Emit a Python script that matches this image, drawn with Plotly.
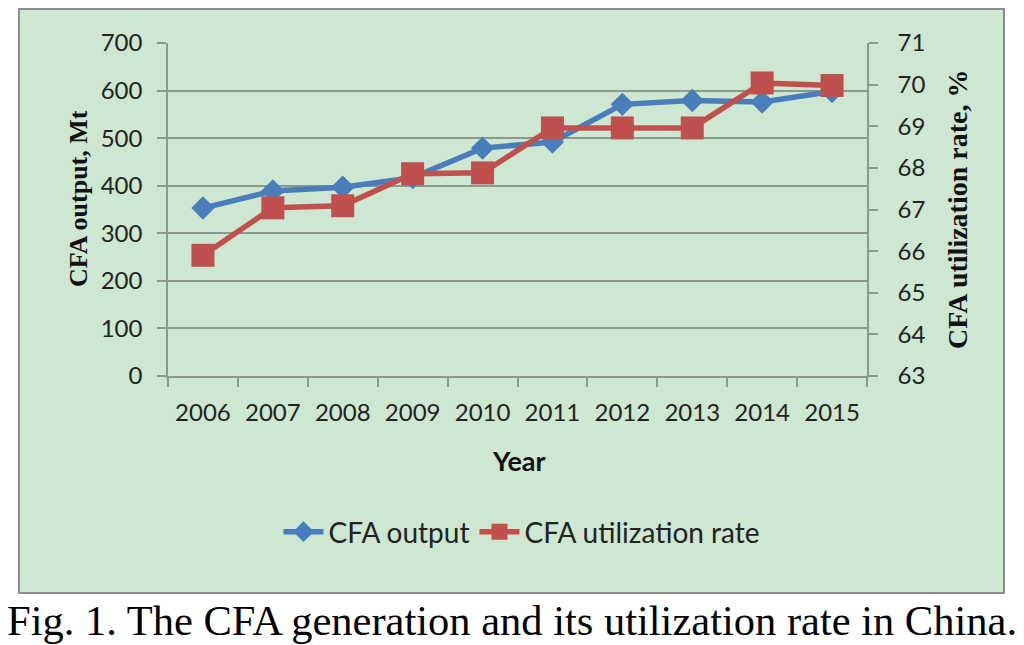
import plotly.graph_objects as go

years = ["2006", "2007", "2008", "2009", "2010", "2011", "2012", "2013", "2014", "2015"]
cfa_output = [353, 389, 397, 417, 479, 492, 571, 579, 576, 598]
cfa_util_rate = [65.9, 67.04, 67.09, 67.86, 67.88, 68.96, 68.96, 68.96, 70.04, 69.98]

left_ticks = [0, 100, 200, 300, 400, 500, 600, 700]
right_ticks = [63, 64, 65, 66, 67, 68, 69, 70, 71]

BLUE = "#4a7ebb"
RED = "#c0504d"
GREEN = "#cde7d0"
GRID = "#8a9a8c"
SANS = "Lato, 'Open Sans', sans-serif"
SERIF = "'Liberation Serif', 'Times New Roman', serif"
TICKFONT = dict(family=SANS, size=24, color="#222222")

fig = go.Figure()
fig.add_trace(go.Scatter(
    x=years, y=cfa_output, name="CFA output", mode="lines+markers",
    line=dict(color=BLUE, width=5.5),
    marker=dict(symbol="diamond", size=18, color=BLUE),
    yaxis="y",
))
fig.add_trace(go.Scatter(
    x=years, y=cfa_util_rate, name="CFA utilization rate", mode="lines+markers",
    line=dict(color=RED, width=5.5),
    marker=dict(symbol="square", size=23, color=RED),
    yaxis="y2",
))

OFF = 8  # page body margin
W, H = 1016, 637
L, R, T, B = 160, 157, 35, 269
pw = W - L - R
ph = H - T - B

def px_x(px):
    return (px - OFF - L) / pw

def px_y(py):
    return (H - B - (py - OFF)) / ph

fig.update_layout(
    width=W, height=H,
    margin=dict(l=L, r=R, t=T, b=B, pad=0),
    paper_bgcolor="white",
    plot_bgcolor="rgba(0,0,0,0)",
    showlegend=True,
    legend=dict(orientation="h", x=px_x(522), y=px_y(532), xanchor="center", yanchor="middle",
                font=dict(family=SANS, size=28, color="#222222"), itemwidth=40,
                bgcolor="rgba(0,0,0,0)", tracegroupgap=0),
    xaxis=dict(
        type="category", tickson="boundaries", ticks="outside", ticklen=9,
        tickcolor=GRID, tickwidth=1.5, showgrid=False, showline=True, linecolor=GRID, linewidth=1.5,
        tickfont=TICKFONT, range=[-0.5, 9.5], ticklabelstandoff=14,
    ),
    yaxis=dict(
        range=[0, 700], tickvals=left_ticks, ticks="outside", ticklen=9, tickcolor=GRID, tickwidth=1.5,
        showgrid=True, gridcolor=GRID, gridwidth=1.5, showline=True, linecolor=GRID, linewidth=1.5,
        zeroline=False, tickfont=TICKFONT, ticklabelstandoff=10,
    ),
    yaxis2=dict(
        range=[63, 71], tickvals=right_ticks, overlaying="y", side="right", ticks="outside", ticklen=9,
        tickcolor=GRID, tickwidth=1.5, showgrid=False, showline=True, linecolor=GRID, linewidth=1.5,
        zeroline=False, tickfont=TICKFONT, ticklabelstandoff=15,
    ),
    shapes=[dict(
        type="rect", xref="paper", yref="paper", layer="below",
        x0=px_x(19), x1=px_x(1004), y0=px_y(593), y1=px_y(9),
        fillcolor=GREEN, line=dict(color="#8c8c8c", width=2),
    )],
    annotations=[
        dict(text="<b>CFA output, Mt</b>", xref="paper", yref="paper", x=px_x(78), y=px_y(199),
             textangle=-90, showarrow=False, xanchor="center", yanchor="middle",
             font=dict(family=SERIF, size=26, color="#111111")),
        dict(text="<b>CFA utilization rate, %</b>", xref="paper", yref="paper", x=px_x(957), y=px_y(210),
             textangle=-90, showarrow=False, xanchor="center", yanchor="middle",
             font=dict(family=SERIF, size=28, color="#111111")),
        dict(text="<b>Year</b>", xref="paper", yref="paper", x=px_x(519), y=px_y(460),
             showarrow=False, xanchor="center", yanchor="middle",
             font=dict(family=SANS, size=27, color="#111111")),
        dict(text="Fig. 1. The CFA generation and its utilization rate in China.", xref="paper", yref="paper",
             x=px_x(512), y=px_y(620), showarrow=False, xanchor="center", yanchor="middle",
             font=dict(family=SERIF, size=42.5, color="#000000")),
    ],
)

fig.write_html("out.html")
